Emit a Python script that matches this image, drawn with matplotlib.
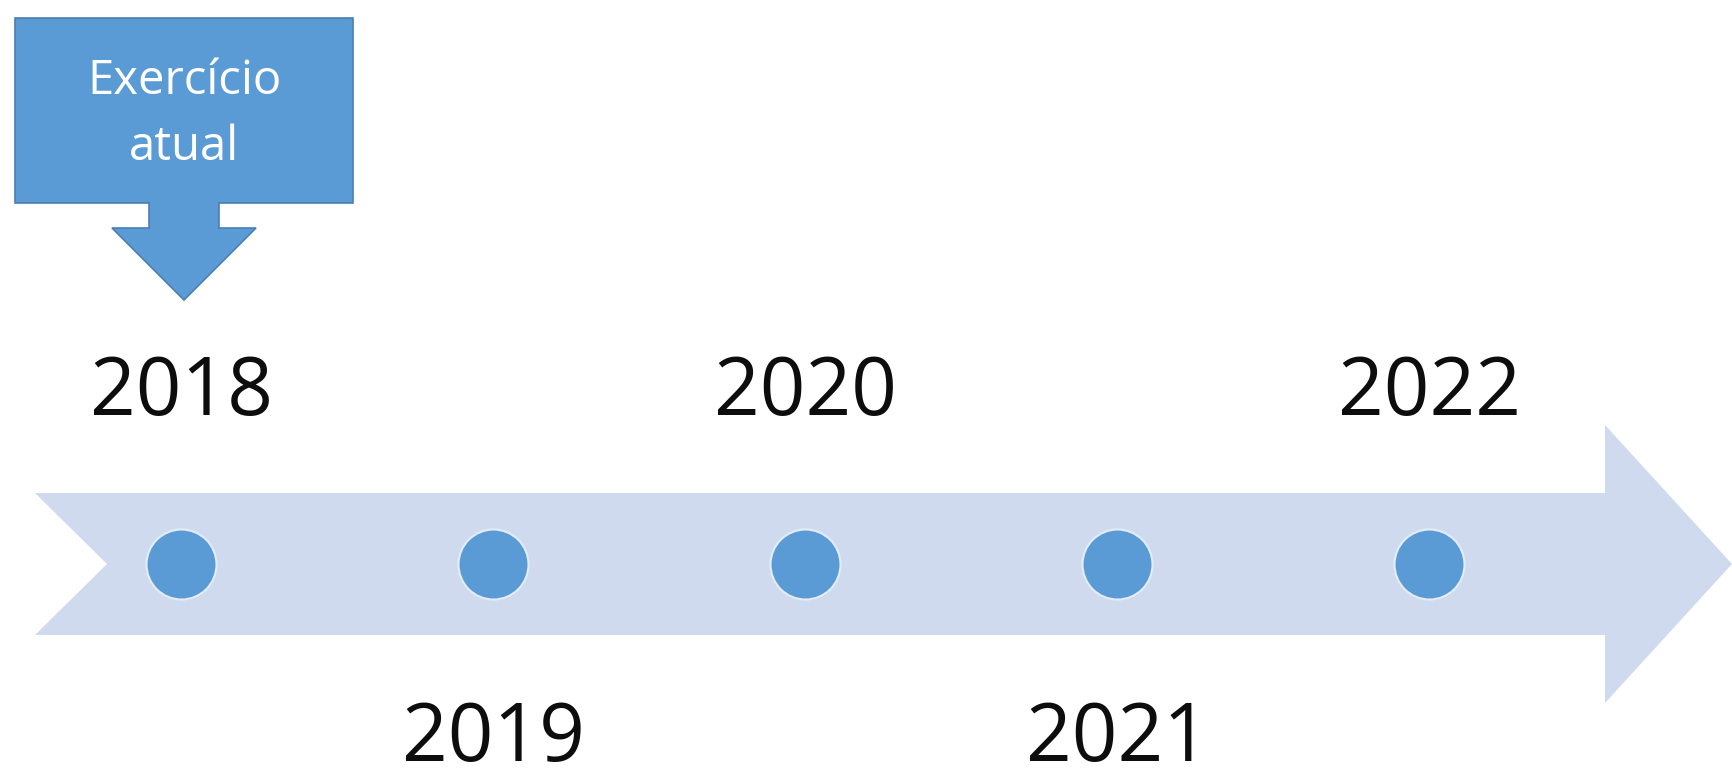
import matplotlib
matplotlib.use("Agg")
import matplotlib.pyplot as plt
from matplotlib.patches import Polygon

# data
years = [2018, 2019, 2020, 2021, 2022]
label_side = ["top", "bottom", "top", "bottom", "top"]
current_year = 2018
callout_text = "Exercício\natual"

# layout (pixels of the 1732x770 canvas)
W, H = 1732, 770
X0_PX = 181      # pixel position of the first year
STEP_PX = 312    # pixels between two years
Y_AXIS = 564

light = "#cfdaee"
blue = "#5b9bd5"


def xpx(p):
    # pixel -> year units on the x scale
    return years[0] + (p - X0_PX) / STEP_PX


fig = plt.figure(figsize=(W / 100, H / 100), dpi=100)
ax = fig.add_axes([0, 0, 1, 1])
ax.set_xlim(xpx(0), xpx(W))
ax.set_ylim(H, 0)
ax.axis("off")

# big timeline arrow
band_top, band_bot = 493, 635
head_top, head_bot = 425, 703
arrow = [
    (xpx(35), band_top), (xpx(1605), band_top), (xpx(1605), head_top),
    (xpx(1732), Y_AXIS), (xpx(1605), head_bot), (xpx(1605), band_bot),
    (xpx(35), band_bot), (xpx(107), Y_AXIS),
]
ax.add_patch(Polygon(arrow, closed=True, facecolor=light, edgecolor="none", zorder=1))

# dots
ax.scatter(years, [Y_AXIS] * len(years), s=2540, color=blue,
           edgecolors="#e3edf8", linewidths=1.5, zorder=3)

# year labels
for y, side in zip(years, label_side):
    if side == "top":
        ax.text(y, 415, str(y), ha="center", va="baseline", fontsize=57.6,
                family="Open Sans", color="#0d0d0d", zorder=4)
    else:
        ax.text(y, 761, str(y), ha="center", va="baseline", fontsize=57.6,
                family="Open Sans", color="#0d0d0d", zorder=4)

# callout over the current year
cx = current_year + 3 / STEP_PX
half_neck = 35 / STEP_PX
half_head = 72 / STEP_PX
callout = [
    (xpx(15), 18), (xpx(353), 18), (xpx(353), 203), (cx + half_neck, 203),
    (cx + half_neck, 228), (cx + half_head, 228), (cx, 300), (cx - half_head, 228),
    (cx - half_neck, 228), (cx - half_neck, 203), (xpx(15), 203),
]
ax.add_patch(Polygon(callout, closed=True, facecolor=blue, edgecolor="#4a7fb3",
                     linewidth=1.2, zorder=2))
ax.text(cx, 114, callout_text, ha="center", va="center", fontsize=34,
        family="Open Sans", color="white", linespacing=1.5, zorder=4)

fig.savefig("out.png", dpi=100, facecolor="white")
